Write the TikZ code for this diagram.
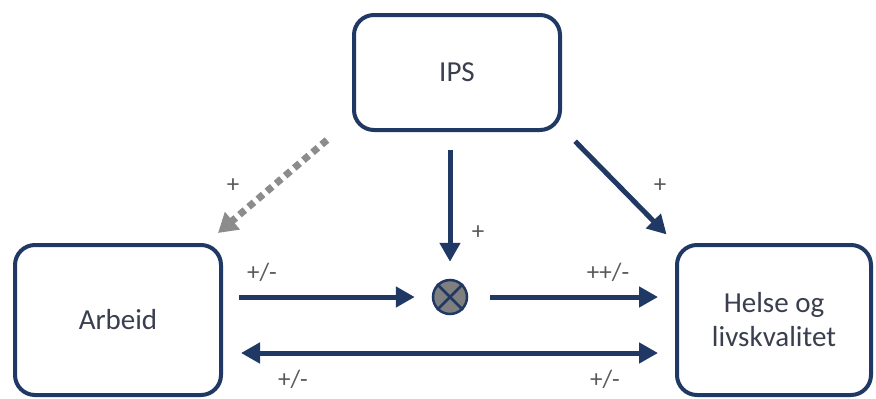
\documentclass[tikz,border=0pt]{standalone}
\usepackage{fontspec}
\setmainfont{Carlito}
\usetikzlibrary{arrows.meta,calc}
\definecolor{navy}{HTML}{203864}
\definecolor{txt}{HTML}{3A3F4F}
\definecolor{lbl}{HTML}{595959}
\definecolor{dotg}{HTML}{8C8C8C}
\definecolor{circg}{HTML}{7F7F7F}
\begin{document}
\begin{tikzpicture}[x=1pt,y=-1pt,
  box/.style={draw=navy, line width=4pt, rounded corners=20pt, inner sep=0pt,
    align=center, text=txt, font=\fontsize{29}{34}\selectfont},
  arr/.style={draw=navy, line width=5pt, -{Triangle[length=19pt,width=20pt]}},
  darr/.style={draw=navy, line width=5pt, {Triangle[length=19pt,width=20pt]}-{Triangle[length=19pt,width=20pt]}},
  dotarr/.style={draw=dotg, line width=7pt, dash pattern=on 7pt off 5pt, -{Triangle[length=19pt,width=22pt]}},
  lab/.style={text=lbl, font=\fontsize{25}{28}\selectfont, inner sep=0pt}]
\useasboundingbox (0,0) rectangle (876,399);
\fill[white] (0,0) rectangle (876,399);
\node[box, minimum width=206pt, minimum height=115pt] (ips) at (457,72.5) {IPS};
\node[box, minimum width=206pt, minimum height=150pt] (arbeid) at (118,320) {Arbeid};
\node[box, minimum width=194pt, minimum height=150pt] (helse) at (774,320) {Helse og\\livskvalitet};
\node[circle, draw=navy, fill=circg, line width=2.5pt, minimum size=34pt, inner sep=0pt] (c) at (450,297) {};
\draw[navy, line width=2.5pt] (c.north east) -- (c.south west) (c.north west) -- (c.south east);
% arrows
\draw[arr, shorten <=16pt, shorten >=17pt] (c.west -| arbeid.east) -- (c.west);
\draw[arr, shorten <=22pt, shorten >=17pt] (c.east) -- (c.east -| helse.west);
\draw[darr, shorten <=18pt, shorten >=17pt] ([yshift=-33pt]arbeid.east) -- ([yshift=-33pt]helse.west);
\draw[arr, shorten <=18pt, shorten >=17pt] (ips.south -| c) -- (c.north);
\draw[arr, shorten <=13pt, shorten >=12pt] ([xshift=4pt]ips.south east) -- (helse.north west);
\draw[dotarr] ([shift={(-25pt,-8pt)}]ips.south west) -- ([shift={(-5pt,10pt)}]arbeid.north east);
% labels
\node[lab] (l1) at (262,272) {+/-};
\node[lab] (l2) at (608,272) {++/-};
\node[lab] (l3) at (293,379) {+/-};
\node[lab] (l4) at (605,379) {+/-};
\node[lab] (l5) at (478,233) {+};
\node[lab] (l6) at (233,186) {+};
\node[lab] (l7) at (660,186) {+};
\end{tikzpicture}
\end{document}
